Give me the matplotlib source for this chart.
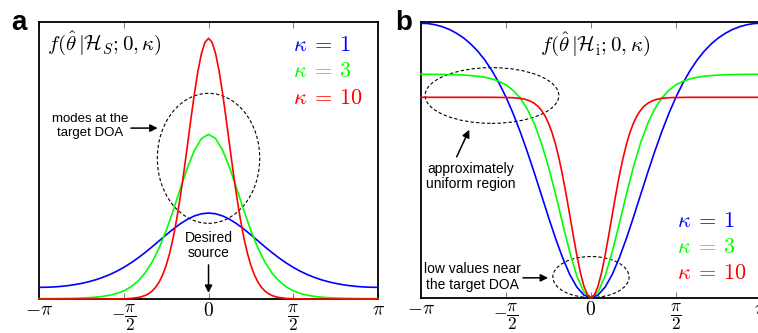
import numpy as np
import matplotlib
matplotlib.use('Agg')
import matplotlib.pyplot as plt
from matplotlib.patches import Ellipse

plt.rcParams['mathtext.fontset'] = 'cm'
plt.rcParams['font.family'] = ['Liberation Sans', 'DejaVu Sans']

# half profiles, angle in degrees from 0 to 180 (curves are symmetric about 0)
theta_deg = [0, 7.5, 15, 22.5, 30, 37.5, 45, 52.5, 60, 67.5, 75, 82.5, 90,
             97.5, 105, 112.5, 120, 127.5, 135, 142.5, 150, 157.5, 165, 172.5, 180]
# red curve is sharper, read more points where it bends
theta_deg_red = [0, 3.75, 7.5, 11.25, 15, 18.75, 22.5, 26.25, 30, 33.75, 37.5,
                 41.25, 45, 48.75, 52.5, 56.25, 60, 63.75, 67.5, 71.25, 75,
                 82.5, 90, 97.5, 105, 112.5, 120, 127.5, 135, 142.5, 150,
                 157.5, 165, 172.5, 180]

# panel a : f(theta | H_s)
src_k1 = [0.3420, 0.3391, 0.3305, 0.3169, 0.2991, 0.2782, 0.2552, 0.2313, 0.2074,
          0.1845, 0.1630, 0.1434, 0.1258, 0.1104, 0.0971, 0.0858, 0.0763, 0.0685,
          0.0620, 0.0569, 0.0529, 0.0499, 0.0479, 0.0467, 0.0463]
src_k3 = [0.6550, 0.6384, 0.5913, 0.5213, 0.4382, 0.3524, 0.2720, 0.2025, 0.1462,
          0.1028, 0.0709, 0.0482, 0.0326, 0.0220, 0.0150, 0.0103, 0.0073, 0.0053,
          0.0039, 0.0030, 0.0024, 0.0020, 0.0018, 0.0017, 0.0016]
src_k10 = [1.0370, 1.0216, 0.9767, 0.9065, 0.8169, 0.7152, 0.6087, 0.5038, 0.4060,
           0.3187, 0.2441, 0.1825, 0.1335, 0.0955, 0.0671, 0.0462, 0.0313, 0.0209,
           0.0138, 0.0090, 0.0058, 0.0024, 0.0009, 0.0004, 0.0002, 0.0, 0.0, 0.0,
           0.0, 0.0, 0.0, 0.0, 0.0, 0.0, 0.0]

# panel b : f(theta | H_i)
int_k1 = [0.0, 0.0025, 0.0100, 0.0218, 0.0374, 0.0556, 0.0756, 0.0965, 0.1172,
          0.1372, 0.1559, 0.1730, 0.1883, 0.2017, 0.2133, 0.2232, 0.2315, 0.2383,
          0.2439, 0.2483, 0.2518, 0.2544, 0.2562, 0.2573, 0.2576]
int_k3 = [0.0, 0.0053, 0.0204, 0.0429, 0.0696, 0.0971, 0.1229, 0.1452, 0.1633,
          0.1772, 0.1875, 0.1947, 0.1998, 0.2031, 0.2054, 0.2069, 0.2079, 0.2085,
          0.2090, 0.2093, 0.2094, 0.2096, 0.2096, 0.2097, 0.2097]
int_k10 = [0.0, 0.0028, 0.0109, 0.0237, 0.0399, 0.0584, 0.0777, 0.0967, 0.1145,
           0.1303, 0.1438, 0.1550, 0.1639, 0.1708, 0.1759, 0.1797, 0.1824, 0.1843,
           0.1856, 0.1865, 0.1871, 0.1877, 0.1879, 0.1880, 0.1881, 0.1881, 0.1881,
           0.1881, 0.1881, 0.1881, 0.1881, 0.1881, 0.1881, 0.1881, 0.1881]

kappa_labels = [r'$\kappa\:=\:1$', r'$\kappa\:=\:3$', r'$\kappa\:=\:10$']
colors = ['#0000ff', '#00ff00', '#ff0000']

tick_pos = [-np.pi, -np.pi / 2, 0, np.pi / 2, np.pi]
tick_lab = [r'$-\pi$', r'$-\dfrac{\pi}{2}$', r'$0$', r'$\dfrac{\pi}{2}$', r'$\pi$']


def mirror(deg, vals):
    t = np.radians(deg)
    v = np.asarray(vals)
    x = np.concatenate([-t[::-1], t[1:]])
    y = np.concatenate([v[::-1], v[1:]])
    return x, y


def style(ax, ymax):
    ax.set_xlim(-np.pi, np.pi)
    ax.set_ylim(0, ymax)
    ax.set_xticks(tick_pos)
    ax.set_xticklabels(tick_lab, fontsize=14)
    for lab in ax.get_xticklabels():
        if 'frac' in lab.get_text():
            lab.set_fontsize(12.5)
    ax.set_yticks([])
    ax.tick_params(axis='x', direction='in', top=True, length=4, width=0.6,
                   color='0.4', pad=2.5)
    for s in ax.spines.values():
        s.set_linewidth(1.3)


def arrow(ax, tail, head):
    ax.annotate('', xy=head, xytext=tail, xycoords='axes fraction',
                arrowprops=dict(arrowstyle='-|>', color='k', lw=1.1,
                                mutation_scale=11, shrinkA=0, shrinkB=0))


fig = plt.figure(figsize=(7.58, 3.33), dpi=100)
axa = fig.add_axes([0.0515, 0.1021, 0.4472, 0.8318])
axb = fig.add_axes([0.5554, 0.1060, 0.4485, 0.8280])

# ---- panel a
grids_a = [theta_deg, theta_deg, theta_deg_red]
for deg, vals, c in zip(grids_a, [src_k1, src_k3, src_k10], colors):
    x, y = mirror(deg, vals)
    axa.plot(x, y, color=c, lw=1.2, clip_on=False, zorder=3)
style(axa, 1.102)

axa.text(0.024, 0.924, r'$f(\hat{\theta}\,|\mathcal{H}_S;0,\kappa)$', fontsize=15,
         transform=axa.transAxes, ha='left', va='center')
for i, (lab, c) in enumerate(zip(kappa_labels, colors)):
    axa.text(0.749, 0.917 - i * 0.096, lab, color=c, fontsize=16,
             transform=axa.transAxes, ha='left', va='center')

axa.add_patch(Ellipse((0, 0.5597), 1.898, 0.517, fill=False, ec='k', lw=0.8,
                      ls=(0, (3, 2))))
axa.text(0.150, 0.625, 'modes at the\ntarget DOA', fontsize=9.5, ha='center',
         va='center', transform=axa.transAxes, linespacing=1.15)
arrow(axa, (0.271, 0.617), (0.350, 0.617))
axa.text(0.5, 0.193, 'Desired\nsource', fontsize=10, ha='center', va='center',
         transform=axa.transAxes, linespacing=1.15)
arrow(axa, (0.5, 0.123), (0.5, 0.022))

# ---- panel b
grids_b = [theta_deg, theta_deg, theta_deg_red]
for deg, vals, c in zip(grids_b, [int_k1, int_k3, int_k10], colors):
    x, y = mirror(deg, vals)
    axb.plot(x, y, color=c, lw=1.2, clip_on=False, zorder=3)
style(axb, 0.2588)

axb.text(0.513, 0.920, r'$f(\hat{\theta}\,|\mathcal{H}_{\mathrm{i}};0,\kappa)$',
         fontsize=15, transform=axb.transAxes, ha='center', va='center')
for i, (lab, c) in enumerate(zip(kappa_labels, colors)):
    axb.text(0.752, 0.278 - i * 0.095, lab, color=c, fontsize=16,
             transform=axb.transAxes, ha='left', va='center')

axb.add_patch(Ellipse((-1.830, 0.1898), 2.472, 0.0523, fill=False, ec='k', lw=0.8,
                      ls=(0, (3, 2))))
axb.add_patch(Ellipse((0, 0.0194), 1.409, 0.0385, fill=False, ec='k', lw=0.8,
                      ls=(0, (3, 2))))
axb.text(0.147, 0.439, 'approximately\nuniform region', fontsize=10, ha='center',
         va='center', transform=axb.transAxes, linespacing=1.15)
arrow(axb, (0.105, 0.511), (0.142, 0.609))
axb.text(0.150, 0.075, 'low values near\nthe target DOA', fontsize=10, ha='center',
         va='center', transform=axb.transAxes, linespacing=1.15)
arrow(axb, (0.300, 0.072), (0.374, 0.072))

fig.text(0.0145, 0.910, 'a', fontsize=20, fontweight='bold', ha='left', va='baseline')
fig.text(0.521, 0.910, 'b', fontsize=20, fontweight='bold', ha='left', va='baseline')

fig.savefig('out.png', dpi=100)
